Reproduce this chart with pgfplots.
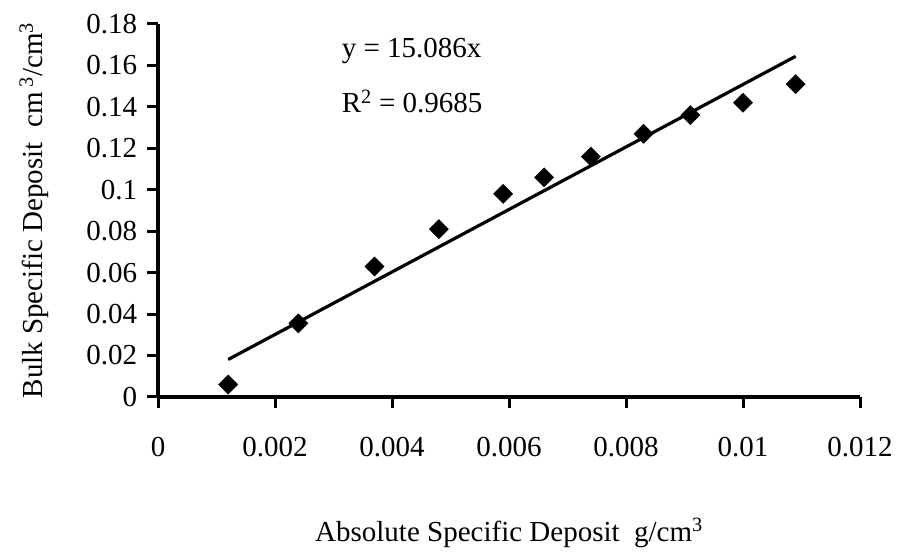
\documentclass[border=0pt]{standalone}
\usepackage{pgfplots}
\pgfplotsset{compat=1.18}
\usepackage{fontspec}
\setmainfont{Liberation Serif}
\begin{document}
\fontsize{29}{34}\selectfont
\begin{tikzpicture}
\path[use as bounding box] (0,0) rectangle (901pt,553pt);
\begin{axis}[
  at={(158pt,156pt)}, anchor=south west,
  scale only axis, width=702pt, height=373pt,
  xmin=0, xmax=0.012, ymin=0, ymax=0.18,
  clip=false,
  scaled ticks=false,
  axis lines=left,
  axis line style={-, line width=3.2pt},
  xtick={0,0.002,0.004,0.006,0.008,0.01,0.012},
  xticklabels={0,0.002,0.004,0.006,0.008,0.01,0.012},
  ytick={0,0.02,0.04,0.06,0.08,0.1,0.12,0.14,0.16,0.18},
  yticklabels={0,0.02,0.04,0.06,0.08,0.1,0.12,0.14,0.16,0.18},
  tick align=outside,
  major tick length=11pt,
  every tick/.style={black, line width=3pt},
  xticklabel style={anchor=base, yshift=-49pt},
  xlabel={Absolute Specific Deposit\ \ g/cm\textsuperscript{3}},
  every axis x label/.style={at={(axis description cs:0.5,0)}, anchor=base, yshift=-144pt},
  ylabel={Bulk Specific Deposit\ \ cm\,\textsuperscript{3}/cm\textsuperscript{3}},
  every axis y label/.style={at={(axis description cs:-0.1652,0.5)}, rotate=90, anchor=base},
]
\addplot[only marks, mark=square*, mark size=6.8pt, mark options={rotate=45, fill=black, draw=black}]
coordinates {
(0.0012,0.006) (0.0024,0.0355) (0.0037,0.063) (0.0048,0.081) (0.0059,0.098)
(0.0066,0.106) (0.0074,0.116) (0.0083,0.127) (0.0091,0.136) (0.0100,0.142) (0.0109,0.151)
};
\addplot[black, line width=3.2pt, no marks] coordinates {(0.0012,0.0181) (0.0109,0.1644)};
\node[anchor=base west, inner sep=0pt] at (axis cs:0.00314,0.1636) {y = 15.086x};
\node[anchor=base west, inner sep=0pt] at (axis cs:0.00314,0.1375) {R\textsuperscript{2} = 0.9685};
\end{axis}
\end{tikzpicture}
\end{document}
